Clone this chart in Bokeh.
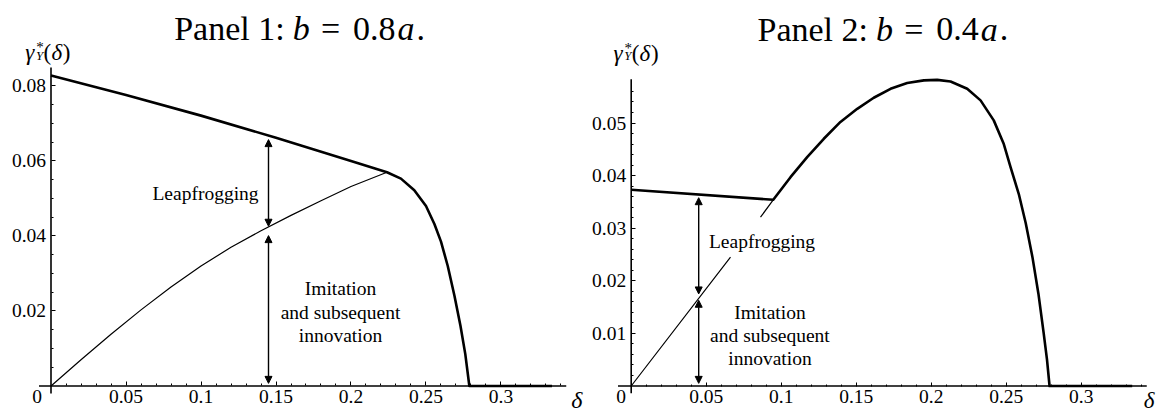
from bokeh.plotting import figure
from bokeh.models import Range1d, FixedTicker, Label, Arrow, NormalHead
from bokeh.layouts import row
from bokeh.embed import file_html
from bokeh.resources import INLINE

FONT = "Liberation Serif"
NAN = float("nan")

# ---------------- ticks ----------------
x_ticks = [0.05, 0.1, 0.15, 0.2, 0.25, 0.3]
x_tick_labels = ["0.05", "0.1", "0.15", "0.2", "0.25", "0.3"]
x_minor = [0.01, 0.02, 0.03, 0.04, 0.06, 0.07, 0.08, 0.09, 0.11, 0.12, 0.13, 0.14,
           0.16, 0.17, 0.18, 0.19, 0.21, 0.22, 0.23, 0.24, 0.26, 0.27, 0.28, 0.29,
           0.31, 0.32, 0.33, 0.34]

p1_y_ticks = [0.02, 0.04, 0.06, 0.08]
p1_y_tick_labels = ["0.02", "0.04", "0.06", "0.08"]
p1_y_minor = [0.005, 0.01, 0.015, 0.025, 0.03, 0.035, 0.045, 0.05, 0.055,
              0.065, 0.07, 0.075]

p2_y_ticks = [0.01, 0.02, 0.03, 0.04, 0.05]
p2_y_tick_labels = ["0.01", "0.02", "0.03", "0.04", "0.05"]
p2_y_minor = [0.002, 0.004, 0.006, 0.008, 0.012, 0.014, 0.016, 0.018, 0.022, 0.024,
              0.026, 0.028, 0.032, 0.034, 0.036, 0.038, 0.042, 0.044, 0.046, 0.048,
              0.052, 0.054, 0.056]

# axis extents (data units)
p1_x_axis = (-0.008, 0.3435)
p1_y_axis = (-0.002, 0.0849)
p2_x_axis = (-0.0088, 0.3437)
p2_y_axis = (-0.0014, 0.0583)

# ---------------- Panel 1 data (b = 0.8a) ----------------
p1_upper_x = [0.0, 0.05, 0.10, 0.15, 0.20, 0.224, 0.2333, 0.2422, 0.25, 0.2556, 0.26,
              0.2645, 0.269, 0.273, 0.2762, 0.2789, 0.334]
p1_upper_y = [0.0828, 0.0776, 0.0721, 0.0662, 0.0600, 0.0570, 0.0553, 0.0522, 0.0480,
              0.0432, 0.0385, 0.0320, 0.0240, 0.0160, 0.0085, 0.0, 0.0]
p1_lower_x = [0.0, 0.02, 0.04, 0.06, 0.08, 0.10, 0.12, 0.14, 0.16, 0.18, 0.20, 0.224]
p1_lower_y = [0.0, 0.0070, 0.0138, 0.0203, 0.0264, 0.0320, 0.0370, 0.0414, 0.0455,
              0.0494, 0.0532, 0.0570]
p1_arrow_x = 0.145
p1_arrow_upper = [0.0426, 0.0657]
p1_arrow_lower = [0.0007, 0.0401]
p1_text = ["Leapfrogging", "Imitation", "and subsequent", "innovation"]
p1_text_x = [0.103, 0.193, 0.193, 0.193]
p1_text_y = [0.05125, 0.02592, 0.01971, 0.01347]

# ---------------- Panel 2 data (b = 0.4a) ----------------
p2_upper_x = [0.0, 0.0947, 0.1062, 0.1173, 0.1284, 0.1395, 0.1507, 0.1617, 0.1729, 0.1840,
              0.1951, 0.2040, 0.2129, 0.2240, 0.2329, 0.2417, 0.2484, 0.2529, 0.2584,
              0.2630, 0.2675, 0.2715, 0.2750, 0.2772, 0.2789, 0.334]
p2_upper_y = [0.0373, 0.0354, 0.0397, 0.0435, 0.0470, 0.0502, 0.0527, 0.0548, 0.0565, 0.0576,
              0.0581, 0.0582, 0.0579, 0.0565, 0.0543, 0.0505, 0.0460, 0.0416, 0.0365,
              0.0310, 0.0245, 0.0175, 0.0100, 0.0050, 0.0, 0.0]
p2_lower_x = [0.0, 0.0662, NAN, 0.0862, 0.0947]
p2_lower_y = [0.0, 0.0245, NAN, 0.0321, 0.0354]
p2_arrow_x = 0.045
p2_arrow_upper = [0.0175, 0.0358]
p2_arrow_lower = [0.0005, 0.0163]
p2_text = ["Leapfrogging", "Imitation", "and subsequent", "innovation"]
p2_text_x = [0.0872, 0.0925, 0.0925, 0.0925]
p2_text_y = [0.02747, 0.01403, 0.00960, 0.00517]


def txt(p, text, x, y, dx=0, dy=0, size="19.5px", style="normal", align="left",
        baseline="alphabetic"):
    p.add_layout(Label(x=x, y=y, x_offset=dx, y_offset=dy, text=text,
                       text_font=FONT, text_font_size=size, text_font_style=style,
                       text_align=align, text_baseline=baseline, text_color="black"))


def make_panel(width, xr, yr, x_axis, y_axis, yt, ytl, ymin, panel_no, coef,
               title_dx, ylab_dx, zero_dx, delta_dx, delta_size):
    p = figure(width=width, height=412, x_range=Range1d(*xr), y_range=Range1d(*yr),
               output_backend="svg", toolbar_location=None, title=None,
               min_border_left=0, min_border_right=0, min_border_top=0,
               min_border_bottom=0)
    p.grid.visible = False
    p.outline_line_color = None
    p.background_fill_color = "white"
    p.border_fill_color = "white"

    xa = p.xaxis[0]
    xa.fixed_location = 0
    xa.ticker = FixedTicker(ticks=x_ticks, minor_ticks=x_minor)
    xa.major_label_overrides = dict(zip(x_ticks, x_tick_labels))
    ya = p.yaxis[0]
    ya.fixed_location = 0
    ya.ticker = FixedTicker(ticks=yt, minor_ticks=ymin)
    ya.major_label_overrides = dict(zip(yt, ytl))
    for ax in (xa, ya):
        ax.axis_line_color = None
        ax.major_tick_in = 4
        ax.major_tick_out = 0
        ax.minor_tick_in = 2
        ax.minor_tick_out = 0
        ax.major_tick_line_color = "black"
        ax.minor_tick_line_color = "black"
        ax.major_tick_line_width = 1
        ax.minor_tick_line_width = 1
        ax.major_label_text_font = FONT
        ax.major_label_text_font_size = "19.5px"
        ax.major_label_text_color = "black"
    xa.major_label_standoff = 4
    ya.major_label_standoff = 5

    # axis lines (Mathematica style, crossing at origin)
    p.line(list(x_axis), [0, 0], line_color="black", line_width=1.6)
    p.line([0, 0], list(y_axis), line_color="black", line_width=1.6)

    # title  "Panel k: b = c a."
    ty = 357
    txt(p, f"Panel {panel_no}:", 0, 0, title_dx, ty, "34px")
    txt(p, "b", 0, 0, title_dx + 118.5, ty, "34px", "italic")
    txt(p, "=", 0, 0, title_dx + 146.7, ty, "34px")
    txt(p, coef, 0, 0, title_dx + 178.7, ty, "34px")
    txt(p, "a", 0, 0, title_dx + 223.2, ty, "34px", "italic")
    txt(p, ".", 0, 0, title_dx + 242.3, ty, "34px")

    # y label  gamma*_Y(delta)
    txt(p, "γ", 0, 0, ylab_dx - 25.7, 333, "23px", "italic")
    txt(p, "*", 0, 0, ylab_dx - 14.7, 338.5, "15px")
    txt(p, "Y", 0, 0, ylab_dx - 15.0, 330.5, "13px", "italic")
    txt(p, "(", 0, 0, ylab_dx - 7.4, 333, "23px")
    txt(p, "δ", 0, 0, ylab_dx + 0.4, 333, "23px", "italic")
    txt(p, ")", 0, 0, ylab_dx + 11.8, 333, "23px")

    # x label delta and origin zero
    txt(p, "δ", x_axis[1], 0, delta_dx, -14.5, delta_size, "italic")
    txt(p, "0", 0, 0, zero_dx, -4, "19.5px", align="center", baseline="top")
    return p


# ranges chosen so that the whole figure is the plotting frame
p1 = make_panel(587, (-0.033667, 0.357667), (-0.0070667, 0.1028), p1_x_axis, p1_y_axis,
                p1_y_ticks, p1_y_tick_labels, p1_y_minor, 1, "0.8", 123.2, 0, -14, 5, "24px")
p1.line(p1_upper_x, p1_upper_y, line_color="black", line_width=2.6, line_join="round")
p1.line(p1_lower_x, p1_lower_y, line_color="black", line_width=1.2)
for ys in (p1_arrow_upper, p1_arrow_lower):
    p1.add_layout(Arrow(x_start=p1_arrow_x, y_start=ys[0], x_end=p1_arrow_x, y_end=ys[1],
                        line_width=1.4, line_color="black",
                        start=NormalHead(size=7, fill_color="black", line_color="black"),
                        end=NormalHead(size=7, fill_color="black", line_color="black")))
for t, x, y in zip(p1_text, p1_text_x, p1_text_y):
    txt(p1, t, x, y, align="center")

p2 = make_panel(586, (-0.029133, 0.361533), (-0.005038, 0.073289), p2_x_axis, p2_y_axis,
                p2_y_ticks, p2_y_tick_labels, p2_y_minor, 2, "0.4", 126.3, 8, -10, -3, "23px")
p2.line(p2_upper_x, p2_upper_y, line_color="black", line_width=2.6, line_join="round")
p2.line(p2_lower_x, p2_lower_y, line_color="black", line_width=1.2)
for ys in (p2_arrow_upper, p2_arrow_lower):
    p2.add_layout(Arrow(x_start=p2_arrow_x, y_start=ys[0], x_end=p2_arrow_x, y_end=ys[1],
                        line_width=1.4, line_color="black",
                        start=NormalHead(size=7, fill_color="black", line_color="black"),
                        end=NormalHead(size=7, fill_color="black", line_color="black")))
for t, x, y in zip(p2_text, p2_text_x, p2_text_y):
    txt(p2, t, x, y, align="center")

layout = row(p1, p2)
open("out.html", "w").write(file_html(layout, INLINE))
